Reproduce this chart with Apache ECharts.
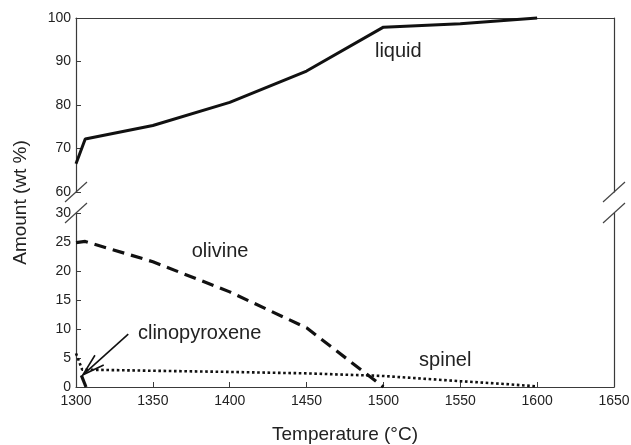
<!DOCTYPE html>
<html><head><meta charset="utf-8">
<script src="https://cdn.jsdelivr.net/npm/echarts@6/dist/echarts.min.js"></script>
<style>html,body{margin:0;padding:0;background:#fff}#c{width:631px;height:445px}</style>
</head><body><div id="c"></div>
<script>
// ---- data ----
const liquidT  = [1300, 1306, 1350, 1400, 1450, 1500, 1550, 1600];
const liquidV  = [66.5, 72.2, 75.3, 80.6, 87.8, 97.9, 98.7, 100];
const olivineT = [1300, 1306, 1350, 1400, 1450, 1500];
const olivineV = [24.9, 25.1, 21.6, 16.4, 10.2, 0];
const spinelT  = [1300, 1304, 1350, 1400, 1450, 1500, 1550, 1580, 1600];
const spinelV  = [5.8, 3.0, 2.8, 2.6, 2.35, 1.9, 1.0, 0.5, 0.1];
const cpxT     = [1303.5, 1306.5];
const cpxV     = [2.0, 0];
// annotation texts and their anchor in data coordinates
const labelTexts = ['liquid', 'olivine', 'clinopyroxene', 'spinel'];
const labelSeries = [0, 1, 1, 1];
const labelAnchorT = [1494.5, 1375.3, 1340.3, 1523.2];
const labelAnchorV = [92.25, 23.3, 9.3, 4.65];
const arrowTail = [1334, 9.1];
const arrowTip = [1304.5, 2.1];

const zip = (a, b) => a.map((v, i) => [v, b[i]]);
const FONT = '"Liberation Sans", Arial, Helvetica, sans-serif';
const AX = '#3a3a3a';
const TXT = '#222';

const axisLineStyle = { show: true, lineStyle: { color: AX, width: 1.2 } };

const option = {
  animation: false,
  backgroundColor: '#fff',
  grid: [
    { left: 76, right: 17, top: 18, height: 174, outerBoundsMode: 'none', containLabel: false },
    { left: 76, right: 17, top: 213, height: 174, outerBoundsMode: 'none', containLabel: false }
  ],
  xAxis: [
    { gridIndex: 0, type: 'value', min: 1300, max: 1650, interval: 50, position: 'top',
      axisLine: axisLineStyle, axisTick: { show: false }, axisLabel: { show: false }, splitLine: { show: false } },
    { gridIndex: 1, type: 'value', min: 1300, max: 1650, interval: 50, position: 'bottom',
      axisLine: axisLineStyle,
      axisTick: { show: true, inside: true, length: 5, lineStyle: { color: AX } },
      axisLabel: { color: TXT, fontSize: 14, fontFamily: FONT, margin: 7, formatter: v => String(v) },
      splitLine: { show: false },
      name: 'Temperature (°C)', nameLocation: 'middle', nameGap: 38,
      nameTextStyle: { color: TXT, fontSize: 19, fontFamily: FONT } }
  ],
  yAxis: [
    { gridIndex: 0, type: 'value', min: 60, max: 100, interval: 10, position: 'left',
      axisLine: axisLineStyle,
      axisTick: { show: true, inside: true, length: 5, lineStyle: { color: AX } },
      axisLabel: { color: TXT, fontSize: 14, fontFamily: FONT, margin: 5 },
      splitLine: { show: false } },
    { gridIndex: 0, type: 'value', min: 60, max: 100, interval: 10, position: 'right',
      axisLine: axisLineStyle, axisTick: { show: false }, axisLabel: { show: false }, splitLine: { show: false } },
    { gridIndex: 1, type: 'value', min: 0, max: 30, interval: 5, position: 'left',
      axisLine: axisLineStyle,
      axisTick: { show: true, inside: true, length: 5, lineStyle: { color: AX } },
      axisLabel: { color: TXT, fontSize: 14, fontFamily: FONT, margin: 5 },
      splitLine: { show: false } },
    { gridIndex: 1, type: 'value', min: 0, max: 30, interval: 5, position: 'right',
      axisLine: axisLineStyle, axisTick: { show: false }, axisLabel: { show: false }, splitLine: { show: false } }
  ],
  series: [
    { name: 'liquid', type: 'line', xAxisIndex: 0, yAxisIndex: 0, data: zip(liquidT, liquidV),
      showSymbol: false, clip: false, lineStyle: { color: '#111', width: 3 } },
    { name: 'olivine', type: 'line', xAxisIndex: 1, yAxisIndex: 2, data: zip(olivineT, olivineV),
      showSymbol: false, clip: false, lineStyle: { color: '#111', width: 3.2, type: [12, 7] } },
    { name: 'spinel', type: 'line', xAxisIndex: 1, yAxisIndex: 2, data: zip(spinelT, spinelV),
      showSymbol: false, clip: false, lineStyle: { color: '#111', width: 2.6, type: [2.6, 2.6] } },
    { name: 'clinopyroxene', type: 'line', xAxisIndex: 1, yAxisIndex: 2, data: zip(cpxT, cpxV),
      showSymbol: false, clip: false, lineStyle: { color: '#111', width: 3.2 } }
  ]
};

const chart = echarts.init(document.getElementById('c'));
chart.setOption(option);

const px = (s, x, y) => chart.convertToPixel({ seriesIndex: s }, [x, y]);
const graphics = [];
// axis break slashes
[[0, 1300, 60], [1, 1300, 30], [0, 1650, 60], [1, 1650, 30]].forEach(([s, x, y]) => {
  const p = px(s, x, y);
  graphics.push({ type: 'line', z: 100, silent: true,
    shape: { x1: p[0] - 11, y1: p[1] + 10, x2: p[0] + 11, y2: p[1] - 10 },
    style: { stroke: '#444', lineWidth: 1.2 } });
});
// text annotations
labelTexts.forEach((t, i) => {
  const p = px(labelSeries[i], labelAnchorT[i], labelAnchorV[i]);
  graphics.push({ type: 'text', z: 100, silent: true, x: p[0], y: p[1],
    style: { text: t, fill: TXT, fontSize: 20, fontFamily: FONT, align: 'left', verticalAlign: 'middle' } });
});
// arrow to clinopyroxene
const tip = px(1, arrowTip[0], arrowTip[1]);
const tail = px(1, arrowTail[0], arrowTail[1]);
const ang = Math.atan2(tail[1] - tip[1], tail[0] - tip[0]);
const hl = 23, ha = 16.6 * Math.PI / 180;
graphics.push({ type: 'line', z: 100, silent: true,
  shape: { x1: tail[0], y1: tail[1], x2: tip[0], y2: tip[1] }, style: { stroke: '#111', lineWidth: 1.6 } });
graphics.push({ type: 'polyline', z: 100, silent: true,
  shape: { points: [
    [tip[0] + hl * Math.cos(ang - ha), tip[1] + hl * Math.sin(ang - ha)],
    [tip[0], tip[1]],
    [tip[0] + hl * Math.cos(ang + ha), tip[1] + hl * Math.sin(ang + ha)] ] },
  style: { stroke: '#111', lineWidth: 1.6, fill: null } });
// y axis title spanning the broken axis
const yTop = px(0, 1300, 100), yBot = px(1, 1300, 0);
graphics.push({ type: 'text', z: 100, silent: true, x: 21, y: (yTop[1] + yBot[1]) / 2,
  rotation: Math.PI / 2,
  style: { text: 'Amount (wt %)', fill: TXT, fontSize: 19, fontFamily: FONT, align: 'center', verticalAlign: 'middle' } });
chart.setOption({ graphic: graphics });
</script>
</body></html>
